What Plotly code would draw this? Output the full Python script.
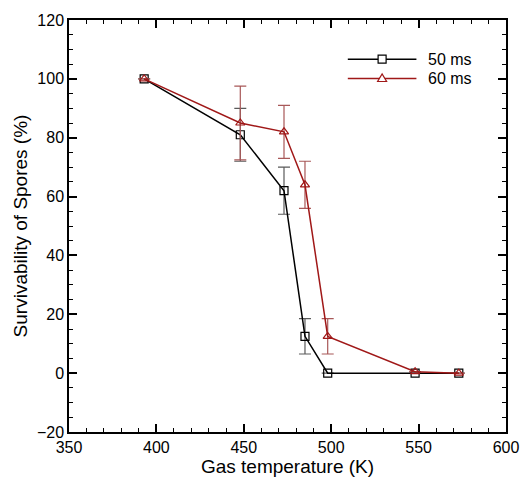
import plotly.graph_objects as go

# Gas temperature (K)
temps = [393, 448, 473, 485, 498, 548, 573]

# Survivability of spores (%) with error bars
surv_50ms = [100, 81, 62, 12.5, 0, 0, 0]
err_50ms = [0, 9, 8, 6, 0, 0, 0]

surv_60ms = [100, 85, 82, 64, 12.5, 0.5, 0]
err_60ms = [0, 12.5, 9, 8, 6, 0, 0]

series_names = ["50 ms", "60 ms"]

x_ticks = [350, 400, 450, 500, 550, 600]
y_ticks = [-20, 0, 20, 40, 60, 80, 100, 120]

RED = "#a01818"
FONT = "Liberation Sans, Arial, sans-serif"

fig = go.Figure()

fig.add_trace(go.Scatter(
    x=temps, y=surv_50ms, name=series_names[0], mode="lines+markers",
    line=dict(color="black", width=1.5),
    marker=dict(symbol="square-open", size=8, color="black", line=dict(width=1.2)),
    error_y=dict(type="data", array=err_50ms, visible=True, color="#5a5a5a",
                 thickness=1.2, width=6),
    showlegend=False,
))

fig.add_trace(go.Scatter(
    x=temps, y=surv_60ms, name=series_names[1], mode="lines+markers",
    line=dict(color=RED, width=1.5),
    marker=dict(symbol="triangle-up-open", size=8, color=RED, line=dict(width=1.2)),
    error_y=dict(type="data", array=err_60ms, visible=True, color="#a85858",
                 thickness=1.2, width=6),
    showlegend=False,
))

# Hand-drawn legend with long sample lines
legend_rows = [(0.905, "black", "square"), (0.858, RED, "triangle")]
x0, x1, xm, xt = 0.638, 0.795, 0.7165, 0.818
shapes = []
for (yp, col, sym), label in zip(legend_rows, series_names):
    shapes.append(dict(type="line", xref="paper", yref="paper",
                       x0=x0, x1=x1, y0=yp, y1=yp,
                       line=dict(color=col, width=1.5)))
    if sym == "square":
        shapes.append(dict(type="rect", xref="paper", yref="paper",
                           xsizemode="pixel", ysizemode="pixel",
                           xanchor=xm, yanchor=yp, x0=-4, x1=4, y0=-4, y1=4,
                           line=dict(color=col, width=1.2), fillcolor="white"))
    else:
        shapes.append(dict(type="path", xref="paper", yref="paper",
                           xsizemode="pixel", ysizemode="pixel",
                           xanchor=xm, yanchor=yp,
                           path="M -4.5,-3 L 4.5,-3 L 0,4.5 Z",
                           line=dict(color=col, width=1.2), fillcolor="white"))
    fig.add_annotation(x=xt, y=yp, xref="paper", yref="paper", text=label,
                       showarrow=False, xanchor="left", yanchor="middle",
                       font=dict(family=FONT, size=16, color="black"))

axis_common = dict(
    showline=True, linecolor="black", linewidth=1.5, mirror="ticks",
    ticks="inside", ticklen=8, tickwidth=1.5, tickcolor="black",
    showgrid=False, zeroline=False,
    tickfont=dict(family=FONT, size=16, color="black"),
)

fig.update_xaxes(
    range=[350, 600], tickvals=x_ticks,
    minor=dict(dtick=10, ticks="inside", ticklen=4, tickwidth=1, tickcolor="black"),
    title=dict(text="Gas temperature (K)", font=dict(family=FONT, size=19, color="black"),
               standoff=4),
    **axis_common,
)
fig.update_yaxes(
    range=[-20, 120], tickvals=y_ticks,
    minor=dict(dtick=5, ticks="inside", ticklen=4, tickwidth=1, tickcolor="black"),
    title=dict(text="Survivability of Spores (%)", font=dict(family=FONT, size=19, color="black"),
               standoff=4),
    **axis_common,
)

fig.update_layout(
    width=531, height=485,
    margin=dict(l=69, r=14, t=13, b=52),
    plot_bgcolor="white", paper_bgcolor="white",
    font=dict(family=FONT, color="black"),
    shapes=shapes,
)

fig.write_html("out.html")
